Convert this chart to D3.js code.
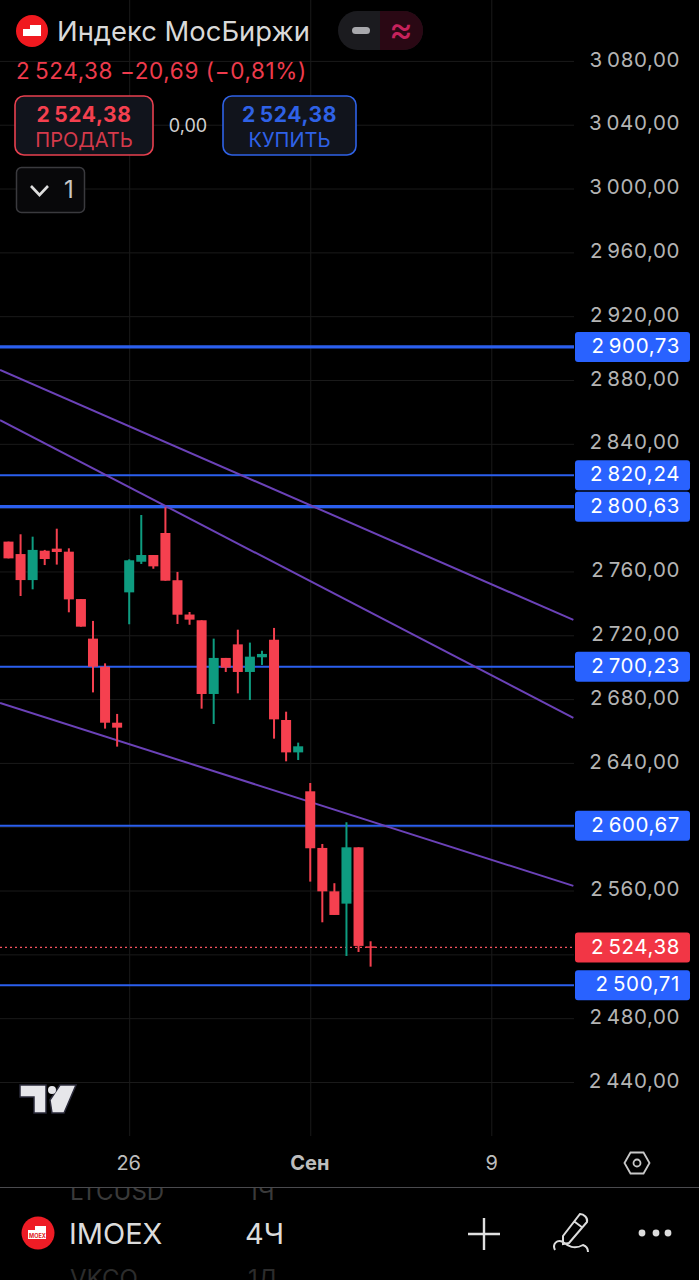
<!DOCTYPE html>
<html><head><meta charset="utf-8">
<script src="https://cdn.jsdelivr.net/npm/d3@7"></script>
<style>html,body{margin:0;padding:0;background:#000}svg{display:block}text{font-family:Inter,Roboto,sans-serif}</style>
</head><body><svg id="c" width="699" height="1280"></svg>
<script>
const opens=[2778.7,2770.9,2754.6,2773,2774.3,2772.4,2742.7,2717.9,2700.3,2665.2,2746.9,2766.1,2770.3,2784.1,2754.5,2733,2729.4,2683.2,2705.8,2714.3,2697,2706.2,2717.2,2666.9,2646.6,2622.2,2586.7,2559.5,2551.8,2587.1,2525];
const highs=[2778.7,2783.3,2781.8,2773.5,2786.8,2774.5,2742.7,2729,2702.4,2670.7,2767.6,2795.4,2770.3,2800.2,2759.7,2734.6,2729.4,2717.9,2705.8,2723.5,2715.4,2710.3,2724.6,2672.1,2652.7,2627.4,2589.2,2564.6,2602.8,2587.1,2528.2];
const lows=[2768.2,2744.6,2748.8,2764,2764.3,2734.4,2725.4,2684.2,2661.5,2650.2,2726.9,2764.7,2761.7,2754.2,2727.1,2726.6,2674,2664.4,2697,2683.6,2679.4,2701.4,2655.2,2641,2641.8,2565.6,2540.1,2544.7,2519,2521.5,2512.3];
const closes=[2768.2,2754.6,2773.5,2767.8,2772.2,2742.5,2725.4,2700.3,2665.2,2662.1,2767,2770.3,2763.2,2754.2,2732.9,2729.8,2683.2,2705.8,2699.7,2697,2706.6,2708.3,2667.3,2646.6,2650.4,2586.5,2559.5,2544.7,2587.1,2525.3,2524.38];
const priceTicks=[2440,2480,2520,2560,2600,2640,2680,2720,2760,2800,2840,2880,2920,2960,3000,3040,3080];
const hiddenTickLabels=[2520,2600,2800];
const timeTickIdx=[10,25,40];
const timeTickLabels=["26","Сен","9"];
const levels=[2900.73,2820.24,2800.63,2700.23,2600.67,2500.71];
const levelWeights=[3.2,2,3.2,2,2,2];
const lastPrice=2524.38;
const trendA=[[-0.7,2886.3],[46.8,2729.6]];
const trendB=[[-0.7,2854.9],[46.8,2668.2]];
const trendC=[[-0.7,2677.6],[46.8,2562.9]];

const svg=d3.select("#c");
const plotR=574;
const y=d3.scaleLinear().domain([2440,2880]).range([1082,380]);
const x=d3.scaleLinear().domain([0,40]).range([8.5,491.3]);
const fmt=v=>{const s=v.toFixed(2).replace(".",",");return s[0]+"\u2009"+s.slice(1)};
const RED="#f5404f",GREEN="#0e9c80",BLUE="#2b5fee";

svg.append("rect").attr("width",699).attr("height",1280).attr("fill","#000");

// grid + time axis
const xAxis=d3.axisBottom(x).tickValues(timeTickIdx).tickFormat((d,i)=>timeTickLabels[i]).tickSize(-1136).tickPadding(15);
const gx=svg.append("g").attr("transform","translate(0,1136)").call(xAxis);
gx.select(".domain").remove();
gx.selectAll("line").attr("stroke","#1a1a1a");
gx.selectAll("text").attr("fill","#bdbdbd").attr("font-size",20).attr("y",20).attr("dy","0.71em")
  .attr("font-weight",(d,i)=>i==1?700:400).attr("dx",(d,i)=>i==0?-1:(i==1?-1:0));

const yAxis=d3.axisRight(y).tickValues(priceTicks).tickFormat(v=>hiddenTickLabels.includes(v)?"":fmt(v)).tickSize(-plotR).tickPadding(0);
const gy=svg.append("g").attr("transform",`translate(${plotR},0)`).call(yAxis);
gy.select(".domain").remove();
gy.selectAll("line").attr("stroke","#1a1a1a");
gy.selectAll("text").attr("x",106).attr("text-anchor","end").attr("fill","#b4b4b4").attr("font-size",20.5).attr("dy","0.25em").attr("letter-spacing",0.6);

// levels
svg.append("g").selectAll("line").data(levels).join("line")
  .attr("x1",0).attr("x2",plotR).attr("y1",d=>y(d)).attr("y2",d=>y(d))
  .attr("stroke",BLUE).attr("stroke-width",(d,i)=>levelWeights[i]);

// trend lines
const line=d3.line().x(d=>x(d[0])).y(d=>y(d[1]));
svg.append("g").selectAll("path").data([trendA,trendB,trendC]).join("path")
  .attr("d",line).attr("fill","none").attr("stroke","#6b42b8").attr("stroke-width",2);

// last price
svg.append("line").attr("x1",0).attr("x2",plotR).attr("y1",y(lastPrice)).attr("y2",y(lastPrice))
  .attr("stroke","#f4525e").attr("stroke-dasharray","2 3").attr("stroke-width",1.4);

// candles
const cs=opens.map((o,i)=>({i,o,h:highs[i],l:lows[i],c:closes[i]}));
const cg=svg.append("g").selectAll("g").data(cs).join("g");
const col=d=>d.c>=d.o?GREEN:RED;
cg.append("line").attr("x1",d=>x(d.i)).attr("x2",d=>x(d.i)).attr("y1",d=>y(d.h)).attr("y2",d=>y(d.l)).attr("stroke",col).attr("stroke-width",2);
cg.append("rect").attr("x",d=>x(d.i)-5).attr("width",10).attr("y",d=>y(Math.max(d.o,d.c)))
  .attr("height",d=>Math.max(1.5,Math.abs(y(d.o)-y(d.c)))).attr("fill",col);

// price tags
function tag(v,fill){
  const g=svg.append("g");
  g.append("rect").attr("x",575).attr("y",y(v)-15).attr("width",115).attr("height",30).attr("rx",3).attr("fill",fill);
  g.append("text").attr("x",680).attr("y",y(v)).attr("dy","0.3em").attr("text-anchor","end").attr("fill","#fff").attr("font-size",20.5).attr("letter-spacing",0.6).text(fmt(v));
}
levels.forEach(v=>tag(v,"#2962ff"));
tag(lastPrice,"#f23645");

// header
const T=(x0,y0,s,size,fill,o={})=>svg.append("text").attr("x",x0).attr("y",y0).attr("font-size",size).attr("fill",fill)
  .attr("text-anchor",o.a||"start").attr("font-weight",o.w||400).attr("letter-spacing",o.ls||0).text(s);
svg.append("circle").attr("cx",32).attr("cy",31).attr("r",16).attr("fill","#f0191f");
svg.append("path").attr("d","M23 36V29H30V25H41V36Z").attr("fill","#fff");
T(57,41,"Индекс МосБиржи",27.4,"#d9d9d9");
T(16,79,fmt(2524.38)+"  −20,69 (−0,81%)",22.5,"#ee3b4c",{ls:0.6});
svg.append("rect").attr("x",338).attr("y",11).attr("width",85).attr("height",39).attr("rx",19.5).attr("fill","#1b1b1f");
svg.append("path").attr("d","M380 11H403.5A19.5 19.5 0 0 1 403.5 50H380Z").attr("fill","#2a0814");
svg.append("rect").attr("x",352).attr("y",27).attr("width",18).attr("height",7).attr("rx",3.5).attr("fill","#a8a8ac");
T(401,42,"≈",36,"#c7225c",{a:"middle",w:400});
[[15,138,RED,"ПРОДАТЬ","#d63a4b","#e8404f"],[223,133,"#2f62e6","КУПИТЬ","#2f62e6","#2f62e6"]].forEach(b=>{
  svg.append("rect").attr("x",b[0]).attr("y",96).attr("width",b[1]).attr("height",59).attr("rx",9).attr("fill","#11141c").attr("stroke",b[5]).attr("stroke-width",1.6);
  T(b[0]+b[1]/2,122,fmt(2524.38),21,b[2],{a:"middle",w:700,ls:0.6});
  T(b[0]+b[1]/2,147,b[3],20,b[4],{a:"middle"});
});
T(188,132,"0,00",18,"#d0d0d0",{a:"middle"});
svg.append("rect").attr("x",16.5).attr("y",167.5).attr("width",68).attr("height",45).attr("rx",5).attr("fill","#08080a").attr("stroke","#3a3a3e").attr("stroke-width",1.5);
svg.append("path").attr("d","M31 186L39.5 195L48 186").attr("fill","none").attr("stroke","#ddd").attr("stroke-width",2.6);
T(69,198,"1",24,"#c8c8c8",{a:"middle"});

// tradingview logo
svg.append("path").attr("d","M20 1085H46V1113H34V1097H20Z M50 1100L60 1085H76L64 1113H52Z").attr("fill","#e6e6ea").attr("stroke","#2a2a3a").attr("stroke-width",1.5);
svg.append("circle").attr("cx",52).attr("cy",1090).attr("r",4).attr("fill","#e6e6ea");

// hex icon
svg.append("path").attr("d","M624.5 1163L630.5 1152.5H643.5L649.5 1163L643.5 1173.5H630.5Z").attr("fill","none").attr("stroke","#c8c8c8").attr("stroke-width",1.8);
svg.append("circle").attr("cx",637).attr("cy",1163).attr("r",3.5).attr("fill","none").attr("stroke","#c8c8c8").attr("stroke-width",1.8);

// bottom bar
svg.append("line").attr("x1",0).attr("x2",699).attr("y1",1187.5).attr("y2",1187.5).attr("stroke","#4a4a4e");
svg.append("clipPath").attr("id","clipA").append("rect").attr("x",0).attr("y",1188).attr("width",699).attr("height",16);
svg.append("clipPath").attr("id","clipB").append("rect").attr("x",0).attr("y",1262).attr("width",699).attr("height",18);
T(70,1200,"LTCUSD",24,"#3a3a3a").attr("clip-path","url(#clipA)");
T(248,1200,"1Ч",24,"#3a3a3a").attr("clip-path","url(#clipA)");
T(70,1287,"VKCO",24,"#2c2c2c").attr("clip-path","url(#clipB)");
T(248,1287,"1Д",24,"#2c2c2c").attr("clip-path","url(#clipB)");
svg.append("circle").attr("cx",38).attr("cy",1233).attr("r",16.5).attr("fill","#ee1c25");
svg.append("path").attr("d","M28 1239V1230H35V1226H46V1239Z").attr("fill","#fff");
T(37.5,1238,"MOEX",5.5,"#e01820",{a:"middle",w:700});
T(69,1244,"IMOEX",29,"#dcdcdc");
T(245,1244,"4Ч",29,"#dcdcdc");
svg.append("path").attr("d","M484 1218V1250M468 1234H500").attr("stroke","#e0e0e0").attr("stroke-width",2.4).attr("fill","none");
svg.append("path").attr("d","M580 1214C584 1214 588 1218 587 1222L569 1243L563 1244L563 1236Z M575 1222L583 1228 M555 1250C552 1244 557 1239 563 1242C568 1246 574 1250 583 1245C586 1246 588 1249 588 1252").attr("fill","none").attr("stroke","#dcdcdc").attr("stroke-width",2);
svg.append("g").selectAll("circle").data([642,656,668]).join("circle").attr("cx",d=>d).attr("cy",1233).attr("r",3.4).attr("fill","#dcdcdc");
</script></body></html>
